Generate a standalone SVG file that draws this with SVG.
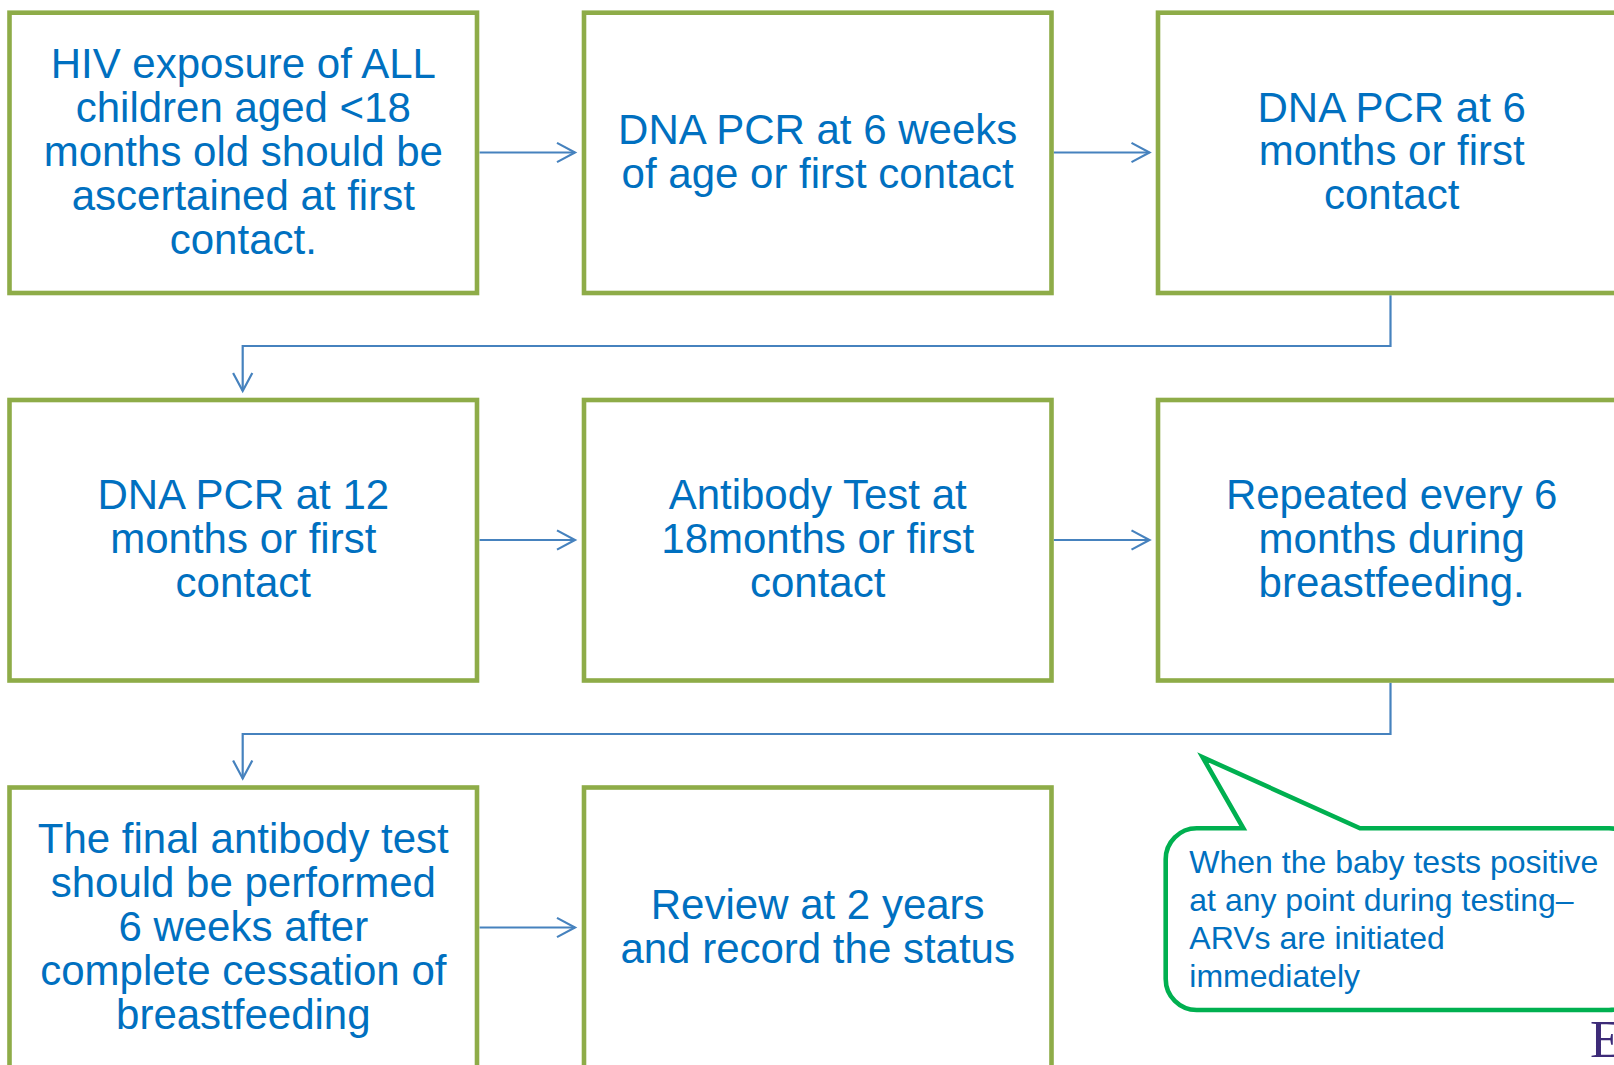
<svg xmlns="http://www.w3.org/2000/svg" width="1614" height="1065" viewBox="0 0 1614 1065">
  <style>
    .box { fill: #ffffff; stroke: #8EAC48; stroke-width: 4.6; }
    .lbl { font-family: "Liberation Sans", Arial, sans-serif; font-size: 42px; fill: #0070C0; text-anchor: middle; }
    .conn { fill: none; stroke: #4682BE; stroke-width: 2.2; marker-end: url(#arrow); }
    .callout { fill: #ffffff; stroke: #00B050; stroke-width: 4.6; stroke-linejoin: miter; }
    .ctext { font-family: "Liberation Sans", Arial, sans-serif; font-size: 32px; fill: #0070C0; }
  </style>
  <defs>
    <marker id="arrow" markerUnits="userSpaceOnUse" markerWidth="26" markerHeight="26" viewBox="-22 -13 26 26" refX="0" refY="0" orient="auto">
      <path d="M-18,-9.6 L0,0 L-18,9.6" fill="none" stroke="#4682BE" stroke-width="2.2"/>
    </marker>
  </defs>
  <rect width="1614" height="1065" fill="#ffffff"/>

  <g id="connectors">
    <path class="conn" d="M479.5,152.5 H575"/>
    <path class="conn" d="M1053.8,152.5 H1149.5"/>
    <path class="conn" d="M1390.5,295.3 V346 H242.7 V391"/>
    <path class="conn" d="M479.5,540 H575"/>
    <path class="conn" d="M1053.8,540 H1149.5"/>
    <path class="conn" d="M1390.5,682.8 V734 H242.7 V778.5"/>
    <path class="conn" d="M479.5,927.5 H575"/>
  </g>

  <g id="node1">
    <rect class="box" x="9.5" y="12.7" width="467.5" height="280.3"/>
    <text class="lbl" x="243.3" y="77.5">HIV exposure of ALL</text>
    <text class="lbl" x="243.3" y="121.5">children aged &lt;18</text>
    <text class="lbl" x="243.3" y="165.5">months old should be</text>
    <text class="lbl" x="243.3" y="209.5">ascertained at first</text>
    <text class="lbl" x="243.3" y="253.5">contact.</text>
  </g>
  <g id="node2">
    <rect class="box" x="584" y="12.7" width="467.5" height="280.3"/>
    <text class="lbl" x="817.7" y="143.5">DNA PCR at 6 weeks</text>
    <text class="lbl" x="817.7" y="187.5">of age or first contact</text>
  </g>
  <g id="node3">
    <rect class="box" x="1158" y="12.7" width="467.5" height="280.3"/>
    <text class="lbl" x="1391.7" y="121.5">DNA PCR at 6</text>
    <text class="lbl" x="1391.7" y="165.3">months or first</text>
    <text class="lbl" x="1391.7" y="209.1">contact</text>
  </g>
  <g id="node4">
    <rect class="box" x="9.5" y="400" width="467.5" height="280.5"/>
    <text class="lbl" x="243.3" y="509">DNA PCR at 12</text>
    <text class="lbl" x="243.3" y="553">months or first</text>
    <text class="lbl" x="243.3" y="597">contact</text>
  </g>
  <g id="node5">
    <rect class="box" x="584" y="400" width="467.5" height="280.5"/>
    <text class="lbl" x="817.7" y="509">Antibody Test at</text>
    <text class="lbl" x="817.7" y="553">18months or first</text>
    <text class="lbl" x="817.7" y="597">contact</text>
  </g>
  <g id="node6">
    <rect class="box" x="1158" y="400" width="467.5" height="280.5"/>
    <text class="lbl" x="1391.7" y="509">Repeated every 6</text>
    <text class="lbl" x="1391.7" y="553">months during</text>
    <text class="lbl" x="1391.7" y="597">breastfeeding.</text>
  </g>
  <g id="node7">
    <rect class="box" x="9.5" y="787.5" width="467.5" height="280.5"/>
    <text class="lbl" x="243.3" y="852.5">The final antibody test</text>
    <text class="lbl" x="243.3" y="896.5">should be performed</text>
    <text class="lbl" x="243.3" y="940.5">6 weeks after</text>
    <text class="lbl" x="243.3" y="984.5">complete cessation of</text>
    <text class="lbl" x="243.3" y="1028.5">breastfeeding</text>
  </g>
  <g id="node8">
    <rect class="box" x="584" y="787.5" width="467.5" height="280.5"/>
    <text class="lbl" x="817.7" y="918.5">Review at 2 years</text>
    <text class="lbl" x="817.7" y="962.5">and record the status</text>
  </g>

  <g id="callout">
    <path class="callout" d="M1196.7,828.3 H1243.3 L1202.7,757.3 L1360,828.3 H1609 A31,31 0 0 1 1640,859.3 V979 A31,31 0 0 1 1609,1010 H1196.7 A31,31 0 0 1 1165.7,979 V859.3 A31,31 0 0 1 1196.7,828.3 Z"/>
    <text class="ctext" x="1189.3" y="872.7">When the baby tests positive</text>
    <text class="ctext" x="1189.3" y="910.7">at any point during testing–</text>
    <text class="ctext" x="1189.3" y="949.3">ARVs are initiated</text>
    <text class="ctext" x="1189.3" y="986.7">immediately</text>
  </g>

  <g id="logo">
    <text x="1590" y="1057" font-family="Liberation Serif, 'Times New Roman', serif" font-size="53" fill="#3D2B78">E</text>
  </g>
</svg>
